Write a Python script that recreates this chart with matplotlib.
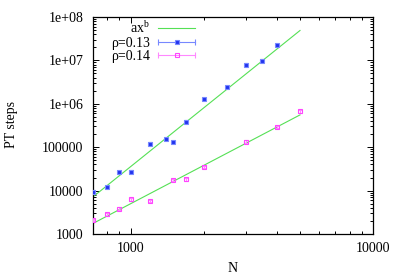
import matplotlib
matplotlib.use("Agg")
import matplotlib.pyplot as plt
import numpy as np
from matplotlib.ticker import LogLocator, FixedLocator, FixedFormatter, NullFormatter
from matplotlib.lines import Line2D
from matplotlib.legend_handler import HandlerBase

plt.rcParams['font.family'] = ['Liberation Serif', 'DejaVu Serif']
plt.rcParams['mathtext.fontset'] = 'custom'
plt.rcParams['mathtext.rm'] = 'Liberation Serif'
plt.rcParams['mathtext.it'] = 'Liberation Serif:italic'

# Data: rho = 0.13
n_013 = [700, 800, 900, 1000, 1200, 1400, 1500, 1700, 2000, 2500, 3000, 3500, 4000]
pt_013 = [9500, 12200, 26600, 27400, 121000, 153000, 132000, 390000, 1280000, 2470000, 7900000, 9900000, 22700000]
err_013 = [700, 900, 1800, 2000, 8000, 10000, 9000, 25000, 80000, 160000, 600000, 700000, 1700000]

# Data: rho = 0.14
n_014 = [700, 800, 900, 1000, 1200, 1500, 1700, 2000, 3000, 4000, 5000]
pt_014 = [2100, 2850, 3830, 6300, 5760, 17500, 18300, 35100, 135000, 294000, 676000]
err_014 = [150, 200, 260, 450, 400, 1200, 1300, 2400, 9000, 20000, 50000]

# Fit parameters y = a x^b
fit_013 = (10 ** -8.919, 4.49)
fit_014 = (10 ** -5.090, 2.929)
fit_range = [700, 5000]

x_ticks = [1000, 10000]
x_ticklabels = ['1000', '10000']
y_ticks = [1e3, 1e4, 1e5, 1e6, 1e7, 1e8]
y_ticklabels = ['1000', '10000', '100000', '1e+06', '1e+07', '1e+08']

green = '#55e055'
blue = '#2233ee'
blue_l = '#7788ff'
pink = '#ff44ff'
pink_l = '#ff88ff'


class ErrHandler(HandlerBase):
    def __init__(self, lcolor, mfc, mec, ms):
        super().__init__()
        self.lcolor, self.mfc, self.mec, self.ms = lcolor, mfc, mec, ms

    def create_artists(self, legend, orig_handle, xdescent, ydescent, width, height, fontsize, trans):
        y = height / 2 - ydescent
        x0, x1 = -xdescent, width - xdescent
        line = Line2D([x0, x1], [y, y], color=self.lcolor, lw=0.8, transform=trans)
        caps = Line2D([x0, x1], [y, y], ls='none', marker='|', ms=4, mew=0.8,
                      color=self.lcolor, transform=trans)
        mk = Line2D([(x0 + x1) / 2], [y], ls='none', marker='s', ms=self.ms, mfc=self.mfc,
                    mec=self.mec, mew=0.8, transform=trans)
        return [line, caps, mk]


fig = plt.figure(figsize=(3.99, 2.79), dpi=100)
ax = fig.add_axes([93/399, 1-234/279, 280/399, 217/279])
ax.set_xscale('log')
ax.set_yscale('log')

xf = np.geomspace(fit_range[0], fit_range[1], 50)
h_fit, = ax.plot(xf, fit_013[0] * xf ** fit_013[1], color=green, lw=0.8, zorder=2)
ax.plot(xf, fit_014[0] * xf ** fit_014[1], color=green, lw=0.8, zorder=2)

ax.errorbar(n_013, pt_013, yerr=err_013, fmt='s', ms=3.0, mfc=blue, mec=blue_l, mew=0.8,
            ecolor=blue_l, elinewidth=0.8, capsize=1.5, capthick=0.8, zorder=3)
ax.errorbar(n_014, pt_014, yerr=err_014, fmt='s', ms=3.3, mfc='none', mec=pink, mew=0.8,
            ecolor=pink_l, elinewidth=0.8, capsize=1.5, capthick=0.8, zorder=3)

ax.set_xlim(700, 10000)
ax.set_ylim(1000, 1e8)

ax.xaxis.set_major_locator(FixedLocator(x_ticks))
ax.xaxis.set_major_formatter(FixedFormatter(x_ticklabels))
ax.xaxis.set_minor_locator(LogLocator(base=10, subs=np.arange(2, 10)))
ax.xaxis.set_minor_formatter(NullFormatter())
ax.yaxis.set_major_locator(FixedLocator(y_ticks))
ax.yaxis.set_major_formatter(FixedFormatter(y_ticklabels))
ax.yaxis.set_minor_locator(LogLocator(base=10, subs=np.arange(2, 10)))
ax.yaxis.set_minor_formatter(NullFormatter())

ax.tick_params(which='both', direction='in', top=True, right=True, labelsize=10, width=0.7)
ax.tick_params(which='major', length=4.5)
ax.tick_params(which='minor', length=2.5)
ax.tick_params(axis='y', pad=7)
ax.tick_params(axis='x', pad=6)
for s in ax.spines.values():
    s.set_linewidth(0.9)

fig.text(11/399, 1-125/279, 'PT steps', rotation=90, ha='center', va='center', fontsize=10)
fig.text(233/399, 1-268/279, 'N', ha='center', va='center', fontsize=10)

h13 = Line2D([], [], color=blue_l)
h14 = Line2D([], [], color=pink_l)
leg = ax.legend([h_fit, h13, h14], [r'ax$^{\rm b}$', 'ρ=0.13', 'ρ=0.14'],
                handler_map={h13: ErrHandler(blue_l, blue, blue_l, 3.0),
                             h14: ErrHandler(pink_l, 'none', pink, 3.3)},
                loc='upper left', bbox_to_anchor=(0.045, 1.01), frameon=False, markerfirst=False,
                fontsize=10, handlelength=2.6, handletextpad=0.6, labelspacing=0.03, borderaxespad=0)

fig.savefig('out.png', dpi=100)
